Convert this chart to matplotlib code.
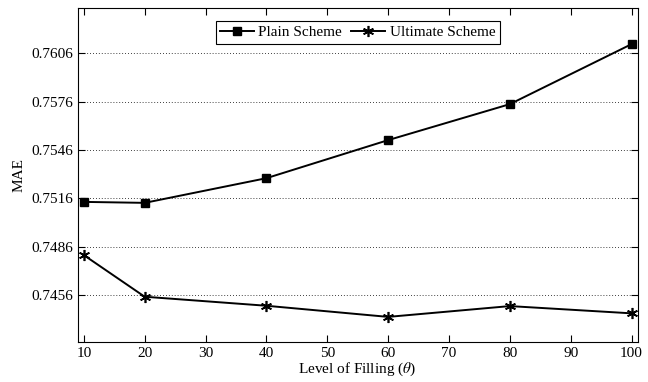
import matplotlib
matplotlib.use("Agg")
import matplotlib.pyplot as plt

# Data
filling = [10, 20, 40, 60, 80, 100]
plain_mae = [0.75138, 0.75132, 0.75285, 0.75521, 0.75744, 0.76116]
ultimate_mae = [0.74808, 0.74550, 0.74494, 0.74425, 0.74492, 0.74447]

x_ticks = [10, 20, 30, 40, 50, 60, 70, 80, 90, 100]
y_ticks = [0.7456, 0.7486, 0.7516, 0.7546, 0.7576, 0.7606]

plt.rcParams['font.family'] = ['Liberation Serif', 'DejaVu Serif']
plt.rcParams['mathtext.fontset'] = 'stix'

fig = plt.figure(figsize=(6.48, 3.82), dpi=100)
ax = fig.add_axes([0.120, 0.105, 0.864, 0.874])

ax.plot(filling, plain_mae, color='black', linewidth=1.4, marker='s',
        markersize=6, label='Plain Scheme')
ax.plot(filling, ultimate_mae, color='black', linewidth=1.4, marker=(6, 2, 0),
        markersize=8, markeredgewidth=1.2, label='Ultimate Scheme')

ax.set_xlim(9, 101)
ax.set_ylim(0.7427, 0.7634)
ax.set_xticks(x_ticks)
ax.set_yticks(y_ticks)
ax.set_yticklabels([f"{v:.4f}" for v in y_ticks])

# MATLAB style: ticks inside on all sides, dotted y grid
ax.tick_params(direction='in', top=True, right=True, labelsize=11, length=5)
ax.yaxis.grid(True, linestyle=(0, (1, 2.5)), color='black', linewidth=0.6)
for s in ax.spines.values():
    s.set_linewidth(0.8)

ax.set_xlabel(r"Level of Filling ($\theta$)", fontsize=11, labelpad=1)
ax.set_ylabel("MAE", fontsize=11)

leg = ax.legend(loc='upper center', ncol=2, fontsize=11, fancybox=False,
                edgecolor='black', framealpha=1, handlelength=2.2,
                handletextpad=0.3, columnspacing=0.6, borderpad=0.3,
                bbox_to_anchor=(0.5, 0.985))
leg.get_frame().set_linewidth(0.8)

fig.savefig("out.png", dpi=100)
